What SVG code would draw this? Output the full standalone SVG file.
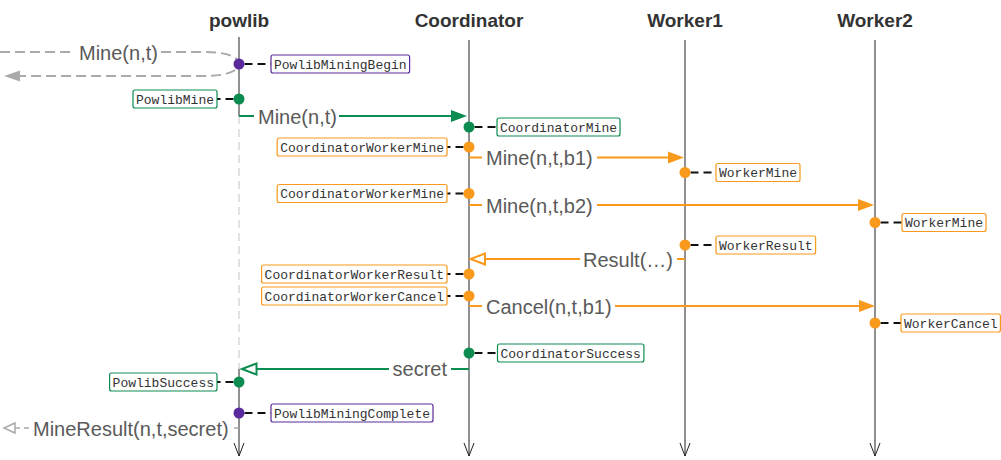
<svg xmlns="http://www.w3.org/2000/svg" width="1001" height="460" viewBox="0 0 1001 460">
<style>
.title{font-family:"Liberation Sans",Arial,sans-serif;font-weight:bold;font-size:19px;fill:#333;text-anchor:middle}
.life{stroke:#222;stroke-width:1;fill:none}
.lifedash{stroke:#c4c4c4;stroke-width:1;stroke-dasharray:8,5;fill:none}
.msg{font-family:"Liberation Sans",Arial,sans-serif;font-size:20px;fill:#5a5a5a}
.box{fill:#fff;stroke-width:1.2}
.mono{font-family:"Liberation Mono","Courier New",monospace;font-size:13px;fill:#333}
.lead{stroke:#111;stroke-width:2;stroke-dasharray:8,5;fill:none}
.pur{fill:#5a2a9c}.purb{stroke:#5a2a9c}
.grn{fill:#0d8c52}.grnb{stroke:#0d8c52}
.org{fill:#f99a1c}.orgb{stroke:#f99a1c}
.mg{stroke:#0d8c52;stroke-width:2;fill:none}
.mo{stroke:#f99a1c;stroke-width:2;fill:none}
.mgray{stroke:#aaa;stroke-width:2;stroke-dasharray:10,5;fill:none}
.mgray2{stroke:#aaa;stroke-width:1.5;stroke-dasharray:5,4;fill:none}
</style>
<defs>
<marker id="fg" markerUnits="userSpaceOnUse" viewBox="0 0 16 12" refX="0" refY="6" markerWidth="16" markerHeight="12" orient="auto" overflow="visible"><path d="M0,0 L16,6 L0,12 z" fill="#0d8c52"/></marker>
<marker id="fo" markerUnits="userSpaceOnUse" viewBox="0 0 16 12" refX="0" refY="6" markerWidth="16" markerHeight="12" orient="auto" overflow="visible"><path d="M0,0 L16,6 L0,12 z" fill="#f99a1c"/></marker>
<marker id="fgr" markerUnits="userSpaceOnUse" viewBox="0 0 16 12" refX="0" refY="6" markerWidth="16" markerHeight="12" orient="auto" overflow="visible"><path d="M0,0.5 L16,6 L0,11.5 z" fill="#aaa"/></marker>
<marker id="oo" markerUnits="userSpaceOnUse" viewBox="0 0 15 12" refX="0" refY="6" markerWidth="15" markerHeight="12" orient="auto" overflow="visible"><path d="M0,0.5 L14.5,6 L0,11.5 z" fill="#fff" stroke="#f99a1c" stroke-width="2"/></marker>
<marker id="og" markerUnits="userSpaceOnUse" viewBox="0 0 15 12" refX="0" refY="6" markerWidth="15" markerHeight="12" orient="auto" overflow="visible"><path d="M0,0.5 L14.5,6 L0,11.5 z" fill="#fff" stroke="#0d8c52" stroke-width="2"/></marker>
<marker id="ogr" markerUnits="userSpaceOnUse" viewBox="0 0 12 12" refX="0" refY="6" markerWidth="12" markerHeight="12" orient="auto" overflow="visible"><path d="M0,1 L11,6 L0,11 z" fill="#fff" stroke="#aaa" stroke-width="1.5"/></marker>
</defs>
<rect width="1001" height="460" fill="#fff"/>

<g id="lifeline-powlib">
<text class="title" x="239" y="27">powlib</text>
<path class="life" d="M239 37 V116"/>
<path class="lifedash" d="M239 116 V369"/>
<path class="life" d="M239 369 V456"/>
<polyline class="life" points="234,443 239,456 244,443"/>
</g>
<g id="lifeline-coordinator">
<text class="title" x="469" y="27">Coordinator</text>
<path class="life" d="M469 40 V456"/>
<polyline class="life" points="464,443 469,456 474,443"/>
</g>
<g id="lifeline-worker1">
<text class="title" x="685" y="27">Worker1</text>
<path class="life" d="M685 40 V456"/>
<polyline class="life" points="680,443 685,456 690,443"/>
</g>
<g id="lifeline-worker2">
<text class="title" x="875" y="27">Worker2</text>
<path class="life" d="M875 40 V456"/>
<polyline class="life" points="870,443 875,456 880,443"/>
</g>

<g id="connectors">
<path class="mgray" d="M0 52 H75 M161 52 H205 C229 52 239 58 239 64 C239 70 229 76 205 76 H20" marker-end="url(#fgr)"/>
<text class="msg" x="79" y="59.5">Mine(n,t)</text>
<path class="mg" d="M239 116 H254 M339 116 H451" marker-end="url(#fg)"/>
<text class="msg" x="258" y="123.5">Mine(n,t)</text>
<path class="mo" d="M469 157.5 H482 M597 157.5 H668" marker-end="url(#fo)"/>
<text class="msg" x="486" y="165">Mine(n,t,b1)</text>
<path class="mo" d="M469 205 H482 M597 205 H858" marker-end="url(#fo)"/>
<text class="msg" x="486" y="212.5">Mine(n,t,b2)</text>
<path class="mo" d="M685 259 H677 M580 259 H485" marker-end="url(#oo)"/>
<text class="msg" x="673" y="266.5" text-anchor="end">Result(…)</text>
<path class="mo" d="M469 306 H482 M615 306 H859" marker-end="url(#fo)"/>
<text class="msg" x="486" y="313.5">Cancel(n,t,b1)</text>
<path class="mg" d="M469 369 H451 M389 369 H256.5" marker-end="url(#og)"/>
<text class="msg" x="447" y="376" text-anchor="end">secret</text>
<path class="mgray2" d="M239 428 H233 M29 428 H15" marker-end="url(#ogr)"/>
<text class="msg" x="33" y="435.5">MineResult(n,t,secret)</text>

<path class="lead" d="M244.5 64 H271"/>
<path class="lead" d="M233.5 99 H217"/>
<path class="lead" d="M474.5 127 H497"/>
<path class="lead" d="M463.5 147 H447"/>
<path class="lead" d="M690.5 172.5 H716"/>
<path class="lead" d="M463.5 193.5 H447"/>
<path class="lead" d="M880.5 222.5 H902"/>
<path class="lead" d="M690.5 245 H716"/>
<path class="lead" d="M463.5 274 H447"/>
<path class="lead" d="M463.5 296 H447"/>
<path class="lead" d="M880.5 323 H901"/>
<path class="lead" d="M474.5 353 H497.5"/>
<path class="lead" d="M233.5 382 H217"/>
<path class="lead" d="M244.5 413 H271"/>
</g>

<g id="ev-PowlibMiningBegin"><circle class="pur" cx="239" cy="64" r="5.5"/><rect class="box purb" x="271" y="55" width="138.6" height="18" rx="2"/><text class="mono" x="274" y="68.5">PowlibMiningBegin</text></g>
<g id="ev-PowlibMine"><circle class="grn" cx="239" cy="99" r="5.5"/><rect class="box grnb" x="133" y="90" width="84" height="18" rx="2"/><text class="mono" x="136" y="103.5">PowlibMine</text></g>
<g id="ev-CoordinatorMine"><circle class="grn" cx="469" cy="127" r="5.5"/><rect class="box grnb" x="497" y="118" width="123" height="18" rx="2"/><text class="mono" x="500" y="131.5">CoordinatorMine</text></g>
<g id="ev-CoordinatorWorkerMine1"><circle class="org" cx="469" cy="147" r="5.5"/><rect class="box orgb" x="277.2" y="138" width="169.8" height="18" rx="2"/><text class="mono" x="280.2" y="151.5">CoordinatorWorkerMine</text></g>
<g id="ev-WorkerMine1"><circle class="org" cx="685" cy="172.5" r="5.5"/><rect class="box orgb" x="716" y="163.5" width="84" height="18" rx="2"/><text class="mono" x="719" y="177">WorkerMine</text></g>
<g id="ev-CoordinatorWorkerMine2"><circle class="org" cx="469" cy="193.5" r="5.5"/><rect class="box orgb" x="277.2" y="184.5" width="169.8" height="18" rx="2"/><text class="mono" x="280.2" y="198">CoordinatorWorkerMine</text></g>
<g id="ev-WorkerMine2"><circle class="org" cx="875" cy="222.5" r="5.5"/><rect class="box orgb" x="902" y="213.5" width="84" height="18" rx="2"/><text class="mono" x="905" y="227">WorkerMine</text></g>
<g id="ev-WorkerResult"><circle class="org" cx="685" cy="245" r="5.5"/><rect class="box orgb" x="716" y="236" width="99.6" height="18" rx="2"/><text class="mono" x="719" y="249.5">WorkerResult</text></g>
<g id="ev-CoordinatorWorkerResult"><circle class="org" cx="469" cy="274" r="5.5"/><rect class="box orgb" x="261.6" y="265" width="185.4" height="18" rx="2"/><text class="mono" x="264.6" y="278.5">CoordinatorWorkerResult</text></g>
<g id="ev-CoordinatorWorkerCancel"><circle class="org" cx="469" cy="296" r="5.5"/><rect class="box orgb" x="261.6" y="287" width="185.4" height="18" rx="2"/><text class="mono" x="264.6" y="300.5">CoordinatorWorkerCancel</text></g>
<g id="ev-WorkerCancel"><circle class="org" cx="875" cy="323" r="5.5"/><rect class="box orgb" x="901" y="314" width="99.4" height="18" rx="2"/><text class="mono" x="904" y="327.5">WorkerCancel</text></g>
<g id="ev-CoordinatorSuccess"><circle class="grn" cx="469" cy="353" r="5.5"/><rect class="box grnb" x="497.5" y="344" width="146.4" height="18" rx="2"/><text class="mono" x="500.5" y="357.5">CoordinatorSuccess</text></g>
<g id="ev-PowlibSuccess"><circle class="grn" cx="239" cy="382" r="5.5"/><rect class="box grnb" x="109.6" y="373" width="107.4" height="18" rx="2"/><text class="mono" x="112.6" y="386.5">PowlibSuccess</text></g>
<g id="ev-PowlibMiningComplete"><circle class="pur" cx="239" cy="413" r="5.5"/><rect class="box purb" x="271" y="404" width="162" height="18" rx="2"/><text class="mono" x="274" y="417.5">PowlibMiningComplete</text></g>
</svg>
